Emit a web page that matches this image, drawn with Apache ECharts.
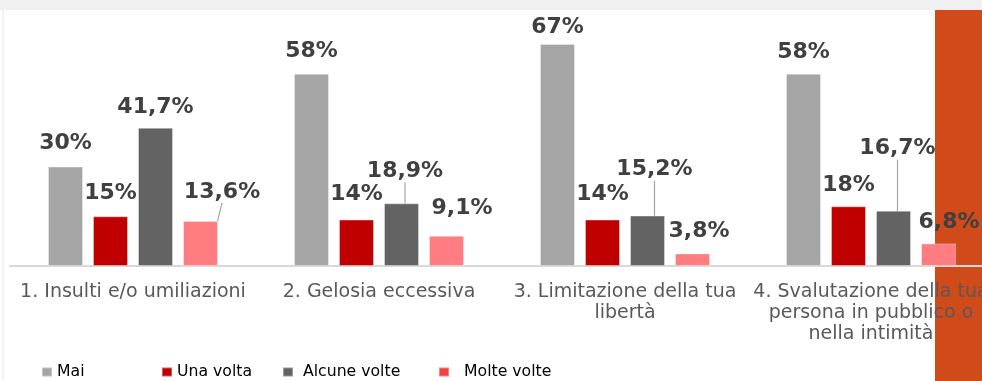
<!DOCTYPE html>
<html>
<head>
<meta charset="utf-8">
<script src="https://cdn.jsdelivr.net/npm/echarts@6/dist/echarts.min.js"></script>
<style>
  html, body { margin: 0; padding: 0; background: #ffffff; }
  #chart { width: 982px; height: 381px; }
</style>
</head>
<body>
<div id="chart"></div>
<script>
// Forme di violenza psicologica: frequenza per tipo
const categories = [
  '1. Insulti e/o umiliazioni',
  '2. Gelosia eccessiva',
  '3. Limitazione della tua\nlibertà',
  '4. Svalutazione della tua\npersona in pubblico o\nnella intimità'
];
const seriesNames = ['Mai', 'Una volta', 'Alcune volte', 'Molte volte'];
const mai = [30, 58, 67, 58];
const unaVolta = [15, 14, 14, 18];
const alcuneVolte = [41.7, 18.9, 15.2, 16.7];
const molteVolte = [13.6, 9.1, 3.8, 6.8];

const barColors = ['#a5a5a5', '#c00000', '#636363', '#ff7c80'];
const legendColors = ['#a5a5a5', '#c00000', '#636363', '#ef4242'];
const mainFont = "'DejaVu Sans', Verdana, sans-serif";

// label nudges [dx, dy, guide line] so crowded labels stay readable
const labelNudges = [
  [[0, -1], [0, 0], [0, 5], [0, 1]],
  [[0, -1], [0, -3], [0, -3], [0, 1]],
  [[0, 1], [3.5, -10, true], [7, -24, true], [4, -40, true]],
  [[21.5, -7, true], [15.5, -6], [6.5, 0], [10.5, 1]]
];

const pct = v => String(v).replace('.', ',') + '%';

function makeSeries(name, values, idx) {
  return {
    name: name,
    type: 'bar',
    barWidth: 35,
    barGap: '28.6%',
    itemStyle: {
      color: barColors[idx],
      borderColor: 'rgba(255,255,255,0.35)',
      borderWidth: 1
    },
    data: values.map((v, i) => {
      const item = { value: v };
      if (labelNudges[idx][i][2]) item.labelLine = { show: true };
      return item;
    }),
    label: {
      show: true,
      position: 'top',
      distance: 11,
      formatter: p => pct(p.value),
      color: '#404040',
      fontFamily: mainFont,
      fontWeight: 'bold',
      fontSize: 22
    },
    labelLine: {
      show: false,
      lineStyle: { color: '#a6a6a6', width: 1.2 }
    },
    labelLayout: p => {
      const n = labelNudges[idx][p.dataIndex];
      return { dx: n[0], dy: n[1] };
    }
  };
}

const legendLefts = [41, 161, 282, 438];
const legendPads = [0, 0, 5, 10];

const chart = echarts.init(document.getElementById('chart'), null, { renderer: 'canvas' });
chart.setOption({
  animation: false,
  backgroundColor: '#ffffff',
  graphic: [
    { type: 'rect', z: -100, silent: true, shape: { x: 0, y: 0, width: 982, height: 10 }, style: { fill: '#f0f0f0' } },
    { type: 'rect', z: -100, silent: true, shape: { x: 935, y: 10, width: 47, height: 371 }, style: { fill: '#d14a19' } },
    { type: 'line', z: -100, silent: true, shape: { x1: 3, y1: 10, x2: 3, y2: 381 }, style: { stroke: '#e8e8e8', lineWidth: 1 } }
  ],
  grid: { left: 10, width: 984, top: 34, bottom: 115, containLabel: false, outerBoundsMode: 'none' },
  legend: seriesNames.map((name, i) => ({
    left: legendLefts[i],
    top: 364,
    padding: 0,
    itemWidth: 10,
    itemHeight: 9,
    icon: 'rect',
    selectedMode: false,
    data: [{ name: name, itemStyle: { color: legendColors[i] } }],
    textStyle: {
      color: '#000000',
      fontFamily: mainFont,
      fontSize: 15.7,
      padding: [0, 0, 0, legendPads[i]]
    }
  })),
  xAxis: {
    type: 'category',
    data: categories,
    axisTick: { show: false },
    axisLine: { show: true, lineStyle: { color: '#d9d9d9', width: 2 } },
    axisLabel: {
      interval: 0,
      margin: 16,
      color: '#595959',
      fontFamily: mainFont,
      fontSize: 19,
      lineHeight: 21,
      align: 'center'
    }
  },
  yAxis: {
    type: 'value',
    min: 0,
    max: 70,
    show: false,
    splitLine: { show: false }
  },
  series: [
    makeSeries(seriesNames[0], mai, 0),
    makeSeries(seriesNames[1], unaVolta, 1),
    makeSeries(seriesNames[2], alcuneVolte, 2),
    makeSeries(seriesNames[3], molteVolte, 3)
  ]
});
</script>
</body>
</html>
